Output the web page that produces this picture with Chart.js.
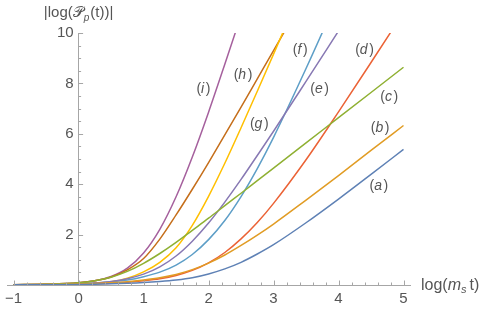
<!DOCTYPE html>
<html>
<head>
<meta charset="utf-8">
<script src="https://cdn.jsdelivr.net/npm/chart.js@4.4.1/dist/chart.umd.min.js"></script>
<style>
  html, body { margin: 0; padding: 0; background: #fff; }
</style>
</head>
<body>
<canvas id="plot" width="485" height="311"></canvas>
<script>
// sample points along log(m_s t)
var xs = [-1, -0.5, 0, 0.25, 0.5, 0.75, 1, 1.25, 1.5, 1.75, 2, 2.25, 2.5, 2.75, 3, 3.5, 4, 4.5, 5];

// |log P_p(t)| for each case, null once the curve has left the plot
var curveA = [0.01, 0.01, 0.02, 0.03, 0.045, 0.065, 0.095, 0.14, 0.20, 0.29, 0.44, 0.64, 0.90, 1.23, 1.60, 2.47, 3.41, 4.39, 5.38];
var curveB = [0.01, 0.02, 0.04, 0.06, 0.09, 0.13, 0.20, 0.29, 0.42, 0.61, 0.87, 1.19, 1.57, 1.98, 2.42, 3.37, 4.34, 5.34, 6.33];
var curveC = [0.01, 0.03, 0.09, 0.17, 0.31, 0.54, 0.86, 1.25, 1.69, 2.17, 2.65, 3.15, 3.64, 4.14, 4.64, 5.64, 6.64, 7.64, 8.64];
var curveD = [0.01, 0.02, 0.03, 0.05, 0.07, 0.11, 0.17, 0.25, 0.38, 0.58, 0.88, 1.29, 1.83, 2.48, 3.24, 4.97, 6.87, 8.83, 10.81];
var curveE = [0.01, 0.02, 0.05, 0.08, 0.14, 0.25, 0.43, 0.72, 1.15, 1.74, 2.46, 3.29, 4.19, 5.14, 6.10, 8.08, 10.08, null, null];
var curveF = [0.01, 0.02, 0.05, 0.08, 0.13, 0.20, 0.33, 0.51, 0.79, 1.21, 1.80, 2.56, 3.51, 4.62, 5.86, 8.59, 11.46, null, null];
var curveG = [0.01, 0.02, 0.04, 0.07, 0.13, 0.27, 0.52, 0.90, 1.48, 2.37, 3.52, 4.83, 6.24, 7.69, 9.16, 12.15, null, null, null];
var curveH = [0.01, 0.03, 0.09, 0.17, 0.32, 0.60, 1.05, 1.82, 2.78, 3.80, 4.86, 5.96, 7.06, 8.18, 9.30, 11.55, null, null, null];
var curveI = [0.01, 0.03, 0.09, 0.17, 0.34, 0.67, 1.27, 2.21, 3.50, 5.08, 6.86, 8.76, 10.70, null, null, null, null, null, null];

var curveNames = ['a', 'b', 'c', 'd', 'e', 'f', 'g', 'h', 'i'];
var curveValues = [curveA, curveB, curveC, curveD, curveE, curveF, curveG, curveH, curveI];

var xTicks = [-1, 0, 1, 2, 3, 4, 5];
var yTicks = [2, 4, 6, 8, 10];

// styling / placement
var colors = ['#5E81B5', '#E19C24', '#8FB032', '#EB6235', '#8778B3', '#5D9EC7', '#FFBF00', '#C56E1A', '#A5609D'];
var labelSpots = [[4.62, 3.93], [4.64, 6.24], [4.78, 7.45], [4.40, 9.33], [3.71, 7.77],
                  [3.41, 9.33], [2.78, 6.39], [2.53, 8.33], [1.92, 7.77]];

var FONT = '"Liberation Sans", Arial, sans-serif';
var TEXT = '#555555';
var AXIS = '#a6a6a6';

var datasets = curveValues.map(function (vals, i) {
    return {
        label: curveNames[i],
        data: xs.map(function (x, j) { return {x: x, y: vals[j]}; }),
        borderColor: colors[i],
        borderWidth: 1.5,
        pointRadius: 0,
        fill: false,
        cubicInterpolationMode: 'monotone',
        clip: 0
    };
});

function drawPieces(ctx, pieces, x, y) {
    pieces.forEach(function (p) {
        ctx.font = p.font;
        ctx.fillText(p.t, x, y + (p.dy || 0));
        x += ctx.measureText(p.t).width + (p.gap || 0);
    });
}
function piecesWidth(ctx, pieces) {
    var w = 0;
    pieces.forEach(function (p) { ctx.font = p.font; w += ctx.measureText(p.t).width + (p.gap || 0); });
    return w;
}

var decorations = {
    id: 'decorations',
    afterDraw: function (chart) {
        var ctx = chart.ctx, sx = chart.scales.x, sy = chart.scales.y;
        var x0 = sx.getPixelForValue(0), y0 = sy.getPixelForValue(0);
        ctx.save();
        ctx.strokeStyle = AXIS;
        ctx.lineWidth = 1;
        // ticks point into the plot, minor every 0.2 / 0.5
        for (var v = -1; v <= 5.0001; v += 0.2) {
            var major = Math.abs(v - Math.round(v)) < 1e-6;
            var px = Math.round(sx.getPixelForValue(v)) + 0.5;
            ctx.beginPath();
            ctx.moveTo(px, y0);
            ctx.lineTo(px, y0 - (major ? 4.5 : 2.5));
            ctx.stroke();
        }
        for (var w = 0.5; w <= 10.0001; w += 0.5) {
            var majorY = Math.abs(w / 2 - Math.round(w / 2)) < 1e-6;
            var py = Math.round(sy.getPixelForValue(w)) + 0.5;
            ctx.beginPath();
            ctx.moveTo(x0, py);
            ctx.lineTo(x0 + (majorY ? 4.5 : 2.5), py);
            ctx.stroke();
        }

        ctx.fillStyle = TEXT;
        ctx.textBaseline = 'middle';
        ctx.textAlign = 'left';
        var up = '15px ' + FONT, sub = 'italic 10px ' + FONT;

        // y axis title
        var yTitle = [
            {t: '|log(', font: up},
            {t: '\uD835\uDCAB', font: up},
            {t: 'p', font: sub, dy: 5, gap: 1},
            {t: '(t))|', font: up}
        ];
        drawPieces(ctx, yTitle, x0 - piecesWidth(ctx, yTitle) / 2, chart.chartArea.top - 20);

        // x axis title
        var up16 = '16px ' + FONT, it16 = 'italic 16px ' + FONT, sub16 = 'italic 11px ' + FONT;
        var xTitle = [
            {t: 'log(', font: up16},
            {t: 'm', font: it16},
            {t: 's', font: sub16, dy: 4, gap: 3},
            {t: 't)', font: up16}
        ];
        drawPieces(ctx, xTitle, chart.chartArea.right + 11, y0 + 1);

        // curve labels
        var lu = '14px ' + FONT, li = 'italic 14px ' + FONT;
        curveNames.forEach(function (n, i) {
            var parts = [{t: '(', font: lu}, {t: n, font: li, gap: 1.5}, {t: ')', font: lu}];
            var cx = sx.getPixelForValue(labelSpots[i][0]);
            var cy = sy.getPixelForValue(labelSpots[i][1]);
            drawPieces(ctx, parts, cx - piecesWidth(ctx, parts) / 2, cy);
        });
        ctx.restore();
    }
};

new Chart(document.getElementById('plot').getContext('2d'), {
    type: 'line',
    data: {datasets: datasets},
    options: {
        responsive: false,
        animation: false,
        layout: {padding: {left: 4, right: 75, top: 33, bottom: 26}},
        scales: {
            x: {
                type: 'linear',
                min: -1.1,
                max: 5.1,
                position: {y: 0},
                afterBuildTicks: function (scale) {
                    scale.ticks = xTicks.map(function (v) { return {value: v}; });
                },
                grid: {display: false, drawTicks: false},
                border: {display: true, color: AXIS, width: 1},
                ticks: {
                    padding: 5,
                    color: TEXT,
                    font: {family: FONT, size: 15},
                    maxRotation: 0,
                    callback: function (v) { return v < 0 ? '\u2212' + Math.abs(v) : String(v); }
                }
            },
            y: {
                type: 'linear',
                min: 0,
                max: 10,
                position: {x: 0},
                afterBuildTicks: function (scale) {
                    scale.ticks = yTicks.map(function (v) { return {value: v}; });
                },
                grid: {display: false, drawTicks: false},
                border: {display: true, color: AXIS, width: 1},
                ticks: {
                    color: TEXT,
                    font: {family: FONT, size: 15},
                    // label sits flush on an axis placed by value, so pad it with a space
                    callback: function (v) { return String(v) + '\u2004'; }
                }
            }
        },
        plugins: {
            legend: {display: false},
            tooltip: {enabled: false}
        }
    },
    plugins: [decorations]
});
</script>
</body>
</html>
